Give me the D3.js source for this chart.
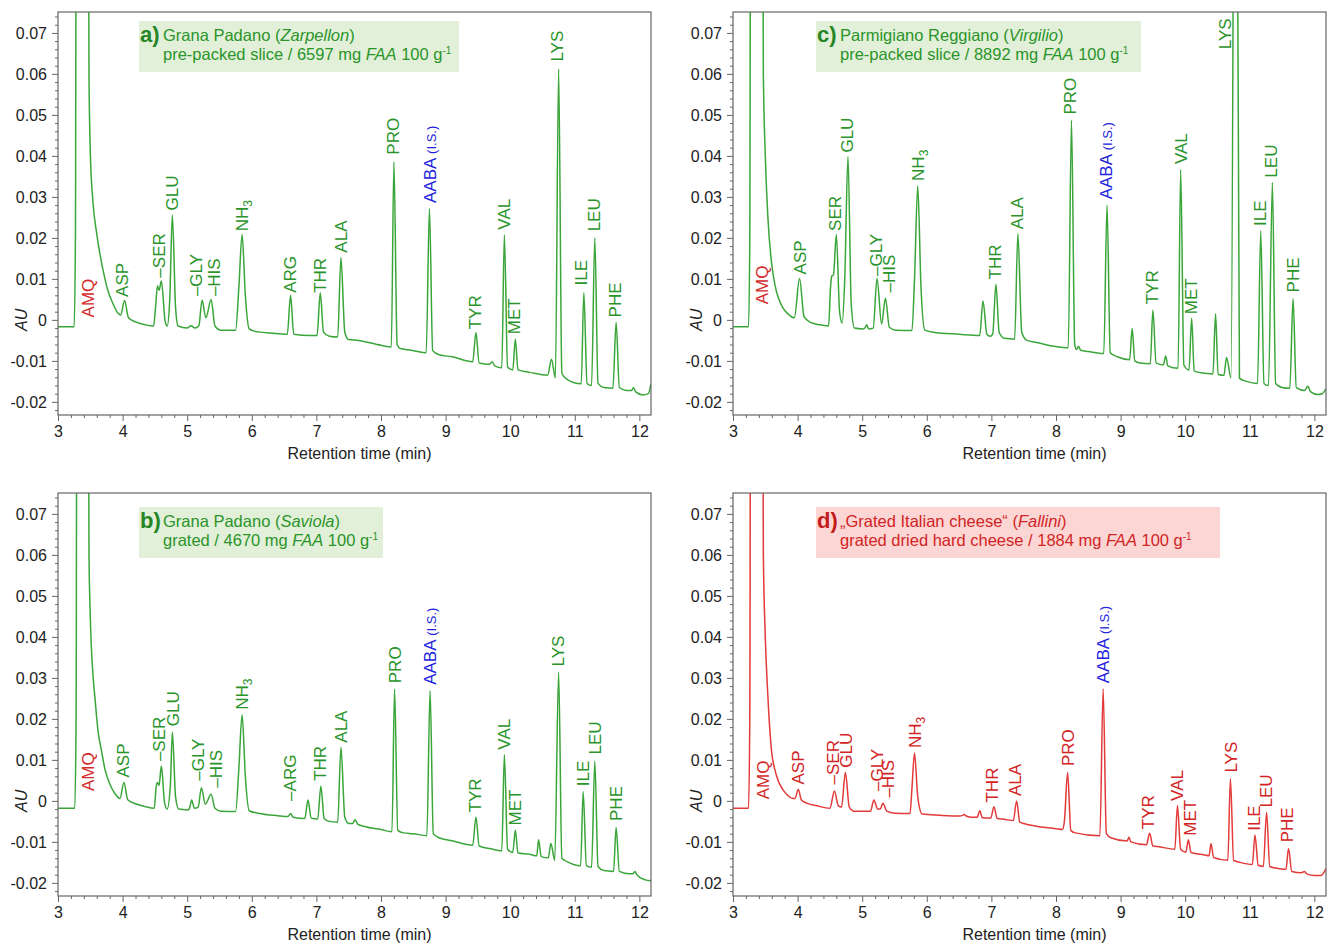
<!DOCTYPE html>
<html>
<head>
<meta charset="utf-8">
<script src="https://cdn.jsdelivr.net/npm/d3@7"></script>
<style>
  body { margin: 0; background: #fff; }
  svg { font-family: "Liberation Sans", Arial, sans-serif; }
</style>
</head>
<body>
<svg id="chart" width="1333" height="944"></svg>
<script>
// traces: [retention time (min), absorbance (AU)]
const traceA = [[3.00,-0.0017],[3.25,-0.0017],[3.27,0.02],[3.29,0.2],[3.45,0.2],[3.48,0.06],[3.50,0.041],[3.54,0.029],[3.60,0.021],[3.65,0.016],[3.72,0.0105],[3.77,0.0073],[3.85,0.004],[3.93,0.0016],
  [3.97,0.0012],[4.03,0.0047],[4.09,0.0006],[4.20,-0.0005],[4.35,-0.0012],[4.48,-0.0015],
  [4.51,0.0030],[4.54,0.0083],[4.565,0.0072],[4.60,0.0095],[4.66,-0.0005],[4.69,-0.0015],
  [4.73,0.005],[4.77,0.0256],[4.82,0.003],[4.86,-0.0015],[5.00,-0.002],[5.06,-0.0014],[5.12,-0.002],
  [5.18,-0.0015],[5.23,0.0048],[5.29,0.0005],[5.37,0.005],[5.43,-0.0015],[5.52,-0.0025],
  [5.75,-0.0025],[5.80,0.008],[5.85,0.0208],[5.90,0.006],[5.96,-0.0022],[6.05,-0.0028],[6.30,-0.0032],[6.55,-0.0035],
  [6.60,0.006],[6.65,-0.0035],[6.90,-0.0038],[7.01,-0.0038],
  [7.06,0.0066],[7.11,-0.003],[7.20,-0.004],[7.33,-0.0042],
  [7.38,0.0152],[7.44,-0.003],[7.50,-0.0048],[7.65,-0.005],[8.00,-0.0062],[8.16,-0.0066],
  [8.20,0.0385],[8.25,-0.006],[8.30,-0.007],[8.50,-0.0075],[8.70,-0.008],
  [8.75,0.0272],[8.80,-0.0075],[8.90,-0.0085],[9.10,-0.009],[9.42,-0.0102],
  [9.47,-0.0031],[9.52,-0.0105],[9.68,-0.0108],[9.72,-0.0102],[9.76,-0.0112],[9.87,-0.0117],
  [9.91,0.0207],[9.96,-0.0115],[10.04,-0.0122],
  [10.08,-0.0047],[10.12,-0.0122],[10.30,-0.0128],[10.58,-0.0135],
  [10.64,-0.0096],[10.70,-0.0142],
  [10.75,0.0612],[10.80,-0.013],[10.88,-0.0145],[11.10,-0.0156],
  [11.14,0.0066],[11.19,-0.0155],[11.26,-0.016],
  [11.31,0.020],[11.36,-0.0155],[11.45,-0.0165],[11.59,-0.0167],
  [11.64,-0.0006],[11.69,-0.0165],[11.80,-0.0172],[11.88,-0.0172],[11.91,-0.0165],[11.94,-0.0175],[12.05,-0.0183],[12.14,-0.018],[12.18,-0.0155]];

const traceB = [[3.00,-0.0018],[3.26,-0.0018],[3.28,0.02],[3.30,0.2],[3.45,0.2],[3.48,0.06],[3.50,0.045],[3.54,0.031],[3.57,0.0255],[3.62,0.017],[3.67,0.0125],[3.73,0.0075],[3.80,0.0042],[3.88,0.0018],[3.96,0.0006],
  [4.02,0.0045],[4.08,0.0003],[4.20,-0.0007],[4.35,-0.0014],[4.49,-0.0018],
  [4.52,0.0035],[4.54,0.0045],[4.565,0.0038],[4.60,0.0085],[4.65,-0.0005],[4.69,-0.002],
  [4.74,0.004],[4.77,0.0168],[4.82,0.001],[4.87,-0.002],[5.00,-0.0022],[5.03,-0.002],[5.07,0.0002],[5.11,-0.0018],[5.17,-0.0015],
  [5.22,0.0032],[5.28,-0.0008],[5.37,0.0016],[5.43,-0.0018],[5.52,-0.0025],[5.75,-0.0026],
  [5.80,0.008],[5.85,0.021],[5.90,0.006],[5.96,-0.0024],[6.10,-0.003],[6.40,-0.0036],[6.56,-0.0038],
  [6.60,-0.0031],[6.64,-0.004],[6.82,-0.0043],
  [6.87,0.0002],[6.92,-0.0042],[7.02,-0.0044],
  [7.07,0.0036],[7.12,-0.0043],[7.20,-0.005],[7.33,-0.0052],
  [7.38,0.0131],[7.44,-0.004],[7.50,-0.0055],[7.56,-0.0055],[7.60,-0.0046],[7.64,-0.0057],[8.00,-0.007],[8.17,-0.0075],
  [8.21,0.0273],[8.26,-0.0072],[8.35,-0.0078],[8.50,-0.008],[8.71,-0.0085],
  [8.76,0.0269],[8.81,-0.008],[8.90,-0.009],[9.10,-0.0097],[9.42,-0.0108],
  [9.47,-0.0039],[9.52,-0.011],[9.70,-0.0117],[9.87,-0.0122],
  [9.91,0.0113],[9.96,-0.0118],[10.04,-0.0126],
  [10.08,-0.0071],[10.12,-0.0127],[10.30,-0.013],[10.41,-0.0134],
  [10.44,-0.0095],[10.48,-0.0136],[10.59,-0.0139],
  [10.63,-0.0104],[10.69,-0.0145],
  [10.75,0.0314],[10.80,-0.014],[10.88,-0.0148],[11.09,-0.0158],
  [11.13,0.0022],[11.18,-0.0158],[11.26,-0.0162],
  [11.31,0.0097],[11.36,-0.016],[11.45,-0.017],[11.60,-0.0172],
  [11.64,-0.0065],[11.69,-0.0172],[11.85,-0.0178],[11.90,-0.0178],[11.93,-0.0172],[11.96,-0.018],[12.08,-0.0192],[12.18,-0.0195]];

const traceC = [[3.00,-0.0017],[3.24,-0.0017],[3.26,0.02],[3.28,0.2],[3.44,0.2],[3.47,0.06],[3.50,0.04],[3.54,0.025],[3.60,0.0135],[3.65,0.0085],[3.70,0.0055],[3.77,0.003],[3.85,0.0015],[3.95,0.0005],
  [4.03,0.0101],[4.10,0.0008],[4.20,-0.0006],[4.35,-0.0012],[4.48,-0.0015],
  [4.51,0.008],[4.53,0.0107],[4.555,0.011],[4.60,0.0208],[4.65,0.002],[4.69,-0.0008],
  [4.73,0.01],[4.78,0.0398],[4.83,0.004],[4.88,-0.002],[5.00,-0.0022],[5.04,-0.002],[5.07,-0.0012],[5.10,-0.0022],[5.17,-0.002],
  [5.23,0.0101],[5.30,-0.001],[5.36,0.0053],[5.42,-0.0018],[5.52,-0.0025],[5.77,-0.0026],
  [5.81,0.01],[5.86,0.0327],[5.91,0.008],[5.97,-0.0025],[6.10,-0.003],[6.50,-0.0035],[6.82,-0.0038],
  [6.87,0.0046],[6.93,-0.0035],[6.98,-0.004],[7.02,-0.0035],
  [7.07,0.0087],[7.12,-0.003],[7.20,-0.0045],[7.36,-0.0047],
  [7.41,0.021],[7.47,-0.003],[7.55,-0.005],[7.70,-0.0055],[8.00,-0.0065],[8.19,-0.0068],
  [8.24,0.0487],[8.29,-0.006],[8.32,-0.0072],[8.35,-0.0064],[8.38,-0.0074],[8.50,-0.0077],[8.74,-0.0082],
  [8.79,0.028],[8.84,-0.008],[8.95,-0.009],[9.14,-0.0097],
  [9.18,-0.0021],[9.22,-0.01],[9.30,-0.0105],[9.46,-0.0107],
  [9.50,0.0024],[9.55,-0.0105],[9.66,-0.011],[9.70,-0.0088],[9.73,-0.0112],[9.89,-0.0118],
  [9.93,0.0366],[9.98,-0.011],[10.06,-0.0122],
  [10.10,0.0004],[10.14,-0.0125],[10.30,-0.013],[10.43,-0.0132],
  [10.47,0.0015],[10.51,-0.0133],[10.60,-0.0135],
  [10.64,-0.0092],[10.71,-0.0142],
  [10.78,0.2],[10.84,-0.0142],[10.95,-0.015],[11.12,-0.0155],
  [11.17,0.0217],[11.22,-0.0155],[11.29,-0.016],
  [11.35,0.0335],[11.40,-0.0155],[11.50,-0.0165],[11.62,-0.0167],
  [11.67,0.0052],[11.72,-0.0165],[11.85,-0.0172],[11.90,-0.0162],[11.94,-0.0175],[12.05,-0.0182],[12.12,-0.018],[12.18,-0.0168]];

const traceD = [[3.00,-0.0018],[3.24,-0.0018],[3.26,0.02],[3.28,0.2],[3.44,0.2],[3.47,0.06],[3.50,0.04],[3.54,0.0255],[3.60,0.0117],[3.65,0.0075],[3.70,0.0049],[3.77,0.0028],[3.83,0.0016],[3.93,0.0006],
  [3.96,0.0006],[4.01,0.0028],[4.06,0.0002],[4.15,-0.0006],[4.30,-0.0012],[4.50,-0.0018],
  [4.57,0.0024],[4.63,-0.0012],[4.68,-0.0015],
  [4.74,0.0069],[4.80,-0.0015],[4.88,-0.0025],[5.13,-0.0025],
  [5.18,0.0002],[5.24,-0.002],[5.28,-0.002],[5.32,-0.0006],[5.38,-0.0025],[5.50,-0.003],[5.74,-0.0031],
  [5.77,0.003],[5.81,0.0117],[5.86,0.001],[5.93,-0.0032],[6.20,-0.0035],[6.50,-0.0037],[6.55,-0.0036],[6.58,-0.0033],[6.61,-0.0037],[6.70,-0.004],[6.78,-0.004],[6.82,-0.0024],[6.86,-0.0041],[6.99,-0.0042],
  [7.04,-0.0014],[7.09,-0.0043],[7.20,-0.0045],[7.34,-0.0048],
  [7.39,0.0],[7.44,-0.0052],[7.50,-0.0055],[8.00,-0.0068],[8.10,-0.007],
  [8.13,-0.005],[8.18,0.0069],[8.23,-0.0072],[8.30,-0.0078],[8.68,-0.0085],
  [8.73,0.0273],[8.78,-0.008],[8.85,-0.009],[9.10,-0.0098],[9.13,-0.0089],[9.16,-0.01],[9.40,-0.0107],
  [9.45,-0.0079],[9.50,-0.011],[9.60,-0.0112],[9.84,-0.0118],
  [9.88,-0.0011],[9.93,-0.0118],[10.01,-0.0125],
  [10.05,-0.0095],[10.09,-0.0126],[10.30,-0.0132],[10.37,-0.0134],
  [10.40,-0.0104],[10.44,-0.0138],[10.66,-0.0145],
  [10.70,0.0054],[10.75,-0.0145],[10.85,-0.015],[11.04,-0.0155],
  [11.08,-0.0083],[11.13,-0.0157],[11.21,-0.016],
  [11.26,-0.0028],[11.31,-0.016],[11.45,-0.0165],[11.56,-0.0167],
  [11.60,-0.0116],[11.65,-0.0172],[11.80,-0.0175],[11.85,-0.0172],[11.88,-0.0178],[12.00,-0.0182],[12.10,-0.0182],[12.18,-0.0165]];

// peak labels: [name, retention time, AU at the foot of the label]
const labelsA = [["AMQ",3.46,0.0006],["ASP",3.99,0.0056],["–SER",4.56,0.0103],["GLU",4.77,0.0267],["–GLY",5.14,0.0058],["–HIS",5.42,0.0058],["NH3",5.85,0.0216],["ARG",6.59,0.0066],["THR",7.05,0.0066],["ALA",7.38,0.0164],["PRO",8.19,0.0403],["AABA",8.75,0.0285],["TYR",9.45,-0.0023],["VAL",9.9,0.022],["MET",10.06,-0.0035],["LYS",10.73,0.063],["ILE",11.1,0.0084],["LEU",11.3,0.0216],["PHE",11.62,0.0006]];
const labelsB = [["AMQ",3.46,0.0024],["ASP",4.01,0.0057],["–SER",4.56,0.0097],["GLU",4.78,0.0182],["–GLY",5.16,0.0049],["–HIS",5.44,0.0032],["NH3",5.85,0.0222],["–ARG",6.59,0.0],["THR",7.05,0.0049],["ALA",7.38,0.0142],["PRO",8.21,0.0287],["AABA",8.75,0.0283],["TYR",9.46,-0.0028],["VAL",9.9,0.0125],["MET",10.07,-0.006],["LYS",10.74,0.0328],["ILE",11.12,0.0036],["LEU",11.31,0.0113],["PHE",11.64,-0.0049]];
const labelsC = [["AMQ",3.44,0.0038],["ASP",4.03,0.0111],["SER",4.58,0.0217],["GLU",4.77,0.0408],["–GLY",5.21,0.0107],["–HIS",5.42,0.0067],["NH3",5.86,0.0339],["THR",7.06,0.0099],["ALA",7.39,0.0221],["PRO",8.22,0.0501],["AABA",8.78,0.0294],["TYR",9.48,0.0038],["VAL",9.93,0.038],["MET",10.09,0.0014],["LYS",10.62,0.066],["ILE",11.16,0.0229],["LEU",11.33,0.0347],["PHE",11.67,0.0067]];
const labelsD = [["AMQ",3.46,0.0004],["ASP",4.01,0.004],["–SER",4.54,0.004],["GLU",4.74,0.0081],["–GLY",5.23,0.0024],["–HIS",5.4,0.0008],["NH3",5.82,0.0129],["THR",7.01,-0.0004],["ALA",7.37,0.0012],["PRO",8.18,0.0085],["AABA",8.73,0.0287],["TYR",9.43,-0.0069],["VAL",9.87,0.0],["MET",10.08,-0.0085],["LYS",10.7,0.0069],["ILE",11.06,-0.0073],["LEU",11.25,-0.0016],["PHE",11.58,-0.0101]];

// axis ticks
const xTicks = [3, 4, 5, 6, 7, 8, 9, 10, 11, 12];
const yTicks = [-0.02, -0.01, 0, 0.01, 0.02, 0.03, 0.04, 0.05, 0.06, 0.07];

// panel headings: [letter, line 1 parts, line 2 parts]  (i = italic, sup = superscript)
const headA = ["a)", [["Grana Padano (",""],["Zarpellon","i"],[")",""]], [["pre-packed slice / 6597 mg ",""],["FAA","i"],[" 100 g",""],["-1","sup"]]];
const headB = ["b)", [["Grana Padano (",""],["Saviola","i"],[")",""]], [["grated / 4670 mg ",""],["FAA","i"],[" 100 g",""],["-1","sup"]]];
const headC = ["c)", [["Parmigiano Reggiano (",""],["Virgilio","i"],[")",""]], [["pre-packed slice / 8892 mg ",""],["FAA","i"],[" 100 g",""],["-1","sup"]]];
const headD = ["d)", [["„Grated Italian cheese“ (",""],["Fallini","i"],[")",""]], [["grated dried hard cheese / 1884 mg ",""],["FAA","i"],[" 100 g",""],["-1","sup"]]];

const W = 593, H = 403;
const xDomain = [3, 12.18], yDomain = [-0.0232, 0.0751];

const green = { line: "#3aa63a", text: "#2a942a", box: "#e3f0d9", head: "#268626" };
const red = { line: "#e33a3a", text: "#d22424", box: "#fbd6d4", head: "#c41c1c" };

const panels = [
  { id: "a", left: 58, top: 12, trace: traceA, labels: labelsA, head: headA, col: green, box: [81, 9, 320, 51], indent: 24 },
  { id: "b", left: 58, top: 493, trace: traceB, labels: labelsB, head: headB, col: green, box: [81, 14, 244, 51], indent: 24 },
  { id: "c", left: 733, top: 12, trace: traceC, labels: labelsC, head: headC, col: green, box: [83, 9, 325, 51], indent: 24 },
  { id: "d", left: 733, top: 493, trace: traceD, labels: labelsD, head: headD, col: red, box: [83, 14, 404, 51], indent: 24 }
];

const svg = d3.select("#chart");
svg.append("rect").attr("width", 1333).attr("height", 944).attr("fill", "#fff");

function addParts(textSel, parts) {
  parts.forEach(([s, st]) => {
    const t = textSel.append("tspan").text(s);
    if (st === "i") t.attr("font-style", "italic");
    if (st === "sup") t.attr("font-size", 10).attr("dy", -6);
  });
}

function drawPanel(p) {
  const g = svg.append("g").attr("transform", `translate(${p.left},${p.top})`);
  const x = d3.scaleLinear().domain(xDomain).range([0, W]);
  const y = d3.scaleLinear().domain(yDomain).range([H, 0]);

  g.append("clipPath").attr("id", "clip-" + p.id)
    .append("rect").attr("width", W).attr("height", H);

  // heading box
  const [bx, by, bw, bh] = p.box;
  g.append("rect").attr("x", bx).attr("y", by).attr("width", bw).attr("height", bh)
    .attr("fill", p.col.box);
  g.append("text").attr("x", bx + 1).attr("y", by + 21)
    .attr("font-size", 22).attr("font-weight", "bold").attr("fill", p.col.head)
    .text(p.head[0]);
  const l1 = g.append("text").attr("x", bx + p.indent).attr("y", by + 20)
    .attr("font-size", 16.5).attr("fill", p.col.text);
  addParts(l1, p.head[1]);
  const l2 = g.append("text").attr("x", bx + p.indent).attr("y", by + 39)
    .attr("font-size", 16.5).attr("fill", p.col.text);
  addParts(l2, p.head[2]);

  // chromatogram
  const line = d3.line().x(d => x(d[0])).y(d => y(d[1])).curve(d3.curveMonotoneX);
  g.append("path").datum(p.trace)
    .attr("clip-path", `url(#clip-${p.id})`)
    .attr("fill", "none").attr("stroke", p.col.line).attr("stroke-width", 1.5)
    .attr("d", line);

  // peak labels
  const lab = g.selectAll(".lab").data(p.labels).enter().append("text")
    .attr("transform", d => `translate(${x(d[1])},${y(d[2])}) rotate(-90)`)
    .attr("dy", "0.36em").attr("font-size", 17)
    .attr("fill", d => d[0] === "AMQ" ? "#d42a2a" : d[0] === "AABA" ? "#2222dd" : p.col.text);
  lab.each(function (d) {
    const t = d3.select(this);
    if (d[0] === "NH3") {
      t.append("tspan").text("NH");
      t.append("tspan").text("3").attr("font-size", 12).attr("dy", 4);
    } else if (d[0] === "AABA") {
      t.append("tspan").text("AABA ");
      t.append("tspan").text("(I.S.)").attr("font-size", 13);
    } else {
      t.text(d[0]);
    }
  });

  // axes
  const fmt = d => Math.abs(d) < 1e-9 ? "0" : d.toFixed(2);
  const minorX = d3.range(15, 62).map(v => v / 5).filter(v => v % 1 !== 0 && v <= xDomain[1]);
  const minorY = d3.range(-11, 38).map(v => +(v * 0.002).toFixed(3)).filter(v => Math.round(v * 1000) % 10 !== 0);

  const gx = g.append("g").attr("transform", `translate(0,${H})`)
    .call(d3.axisBottom(x).tickValues(xTicks).tickSize(6).tickPadding(5).tickFormat(d3.format("d")));
  const gxm = g.append("g").attr("transform", `translate(0,${H})`)
    .call(d3.axisBottom(x).tickValues(minorX).tickSize(3).tickFormat(""));
  const gy = g.append("g")
    .call(d3.axisLeft(y).tickValues(yTicks).tickSize(6).tickPadding(5).tickFormat(fmt));
  const gym = g.append("g")
    .call(d3.axisLeft(y).tickValues(minorY).tickSize(3).tickFormat(""));
  [gx, gxm, gy, gym].forEach(a => {
    a.select(".domain").remove();
    a.selectAll("line").attr("stroke", "#666");
    a.selectAll("text").attr("font-size", 16).attr("fill", "#222")
      .attr("font-family", "'Liberation Sans', Arial, sans-serif");
  });

  g.append("rect").attr("width", W).attr("height", H)
    .attr("fill", "none").attr("stroke", "#666").attr("stroke-width", 1.2);

  g.append("text").attr("x", W / 2 + 5).attr("y", H + 44)
    .attr("text-anchor", "middle").attr("font-size", 16).attr("fill", "#222")
    .text("Retention time (min)");
  g.append("text")
    .attr("transform", `translate(-31,${y(0)}) rotate(-90)`)
    .attr("text-anchor", "middle").attr("font-size", 16).attr("font-style", "italic").attr("fill", "#222")
    .text("AU");
}

panels.forEach(drawPanel);
</script>
</body>
</html>
